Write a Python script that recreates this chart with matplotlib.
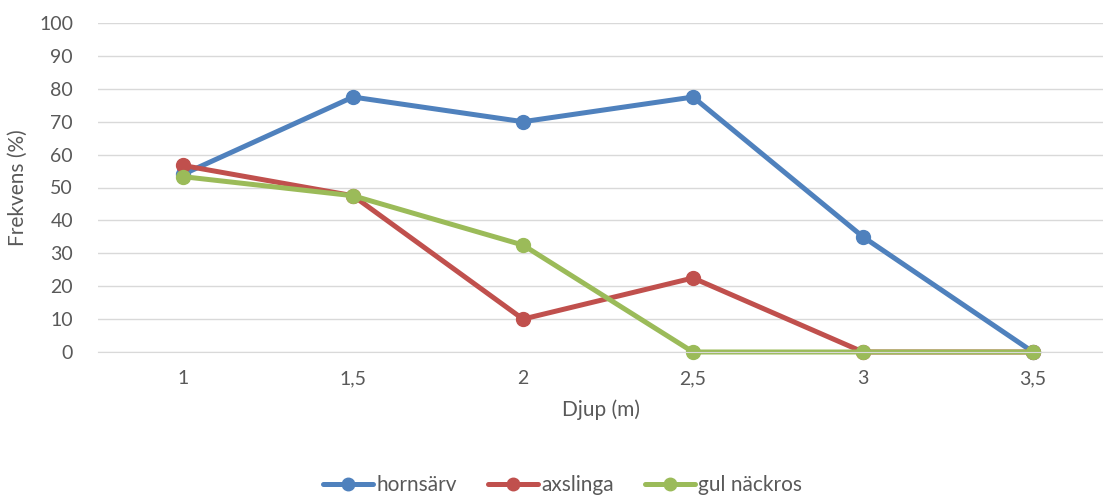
import matplotlib.pyplot as plt
import numpy as np

plt.rcParams['font.family'] = ['Lato', 'DejaVu Sans']

djup = ['1', '1,5', '2', '2,5', '3', '3,5']
hornsarv = [54, 77.5, 70, 77.5, 35, 0]
axslinga = [56.7, 47.5, 10, 22.5, 0, 0]
gul_nackros = [53.3, 47.5, 32.5, 0, 0, 0]

serier = [
    ('hornsärv', hornsarv, '#4F81BD'),
    ('axslinga', axslinga, '#C0504D'),
    ('gul näckros', gul_nackros, '#9BBB59'),
]

fig = plt.figure(figsize=(11.03, 4.95), dpi=100)
ax = fig.add_axes([98 / 1103, 1 - 352 / 495, 1 - 98 / 1103, (352 - 23) / 495])

x = np.arange(len(djup))
for namn, varden, farg in serier:
    ax.plot(x, varden, color=farg, linewidth=3.6, marker='o', markersize=10,
            label=namn, solid_capstyle='round', clip_on=False)

# kategoriaxel, sista kategorin når förbi bildkanten
ax.set_xlim(-0.5, 5.5 - 15 / 170)
ax.set_ylim(0, 100)
ax.set_yticks(np.arange(0, 101, 10))
ax.set_xticks(x)
ax.set_xticklabels(djup)

ax.grid(axis='y', color='#d9d9d9', linewidth=1)
ax.set_axisbelow(True)
for s in ['top', 'right', 'left']:
    ax.spines[s].set_visible(False)
ax.spines['bottom'].set_color('#d9d9d9')
ax.tick_params(axis='both', length=0, labelsize=14, colors='#595959')
ax.tick_params(axis='y', pad=18)
ax.tick_params(axis='x', pad=13)

ax.set_ylabel('Frekvens (%)', fontsize=15, color='#595959', labelpad=8)
ax.set_xlabel('Djup (m)', fontsize=15, color='#595959', labelpad=9)

leg = fig.legend(loc='center', bbox_to_anchor=(0.51, 1 - 485 / 495), ncol=3,
                 frameon=False, fontsize=15, handlelength=2.4, columnspacing=1.5,
                 handletextpad=0.15, markerscale=0.9)
for t in leg.get_texts():
    t.set_color('#595959')

fig.savefig('out.png', dpi=100)
